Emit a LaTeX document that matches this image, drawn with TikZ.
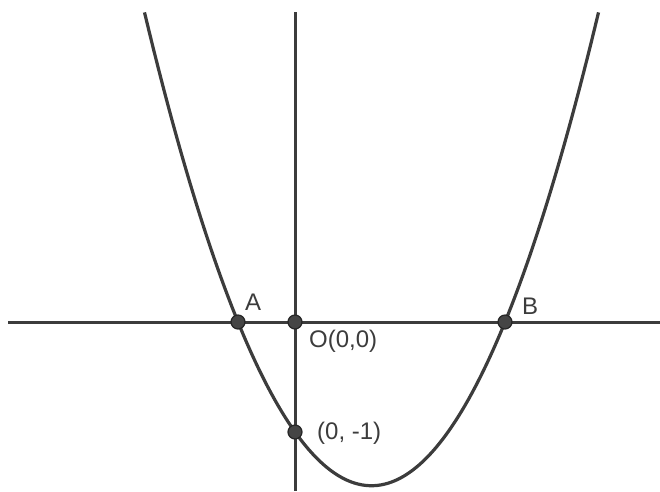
\documentclass[tikz,border=0pt]{standalone}
\usepackage{fontspec}
\setmainfont{Liberation Sans}
\definecolor{ink}{HTML}{3C3C3C}
\definecolor{dotfill}{HTML}{454545}
\begin{document}
\begin{tikzpicture}[x=1pt,y=-1pt,
  axis/.style={line width=3pt, draw=ink},
  curve/.style={line width=3.2pt, draw=ink},
  pt/.style={circle, fill=dotfill, draw=black!85, line width=1.2pt, minimum size=14pt, inner sep=0pt},
  lbl/.style={text=ink, font=\fontsize{24}{26}\selectfont, inner sep=0pt}]
\useasboundingbox (0,0) rectangle (660,491);
% axes
\coordinate (xl) at (8,322);
\coordinate (xr) at (660,322);
\coordinate (yt) at (295,12);
\coordinate (yb) at (295,491);
\draw[axis] (xl) -- (xr);
\draw[axis] (yt) -- (yb);
% parabola
\draw[curve, smooth, samples=120, domain=144.5:598.5]
  plot (\x, {322 + 0.0091896*(\x-238)*(505-\x)});
% points
\node[pt] (A) at (238,322) {};
\node[pt] (O) at (295,322) {};
\node[pt] (B) at (505,322) {};
\node[pt] (C) at (295,432) {};
% labels
\node[lbl, anchor=west] (lA) at (245,302) {A};
\node[lbl, anchor=west] (lO) at (309,341) {O(0,0)};
\node[lbl, anchor=west] (lB) at (522,306) {B};
\node[lbl, anchor=west] (lC) at (317,433) {(0, -1)};
\end{tikzpicture}
\end{document}
